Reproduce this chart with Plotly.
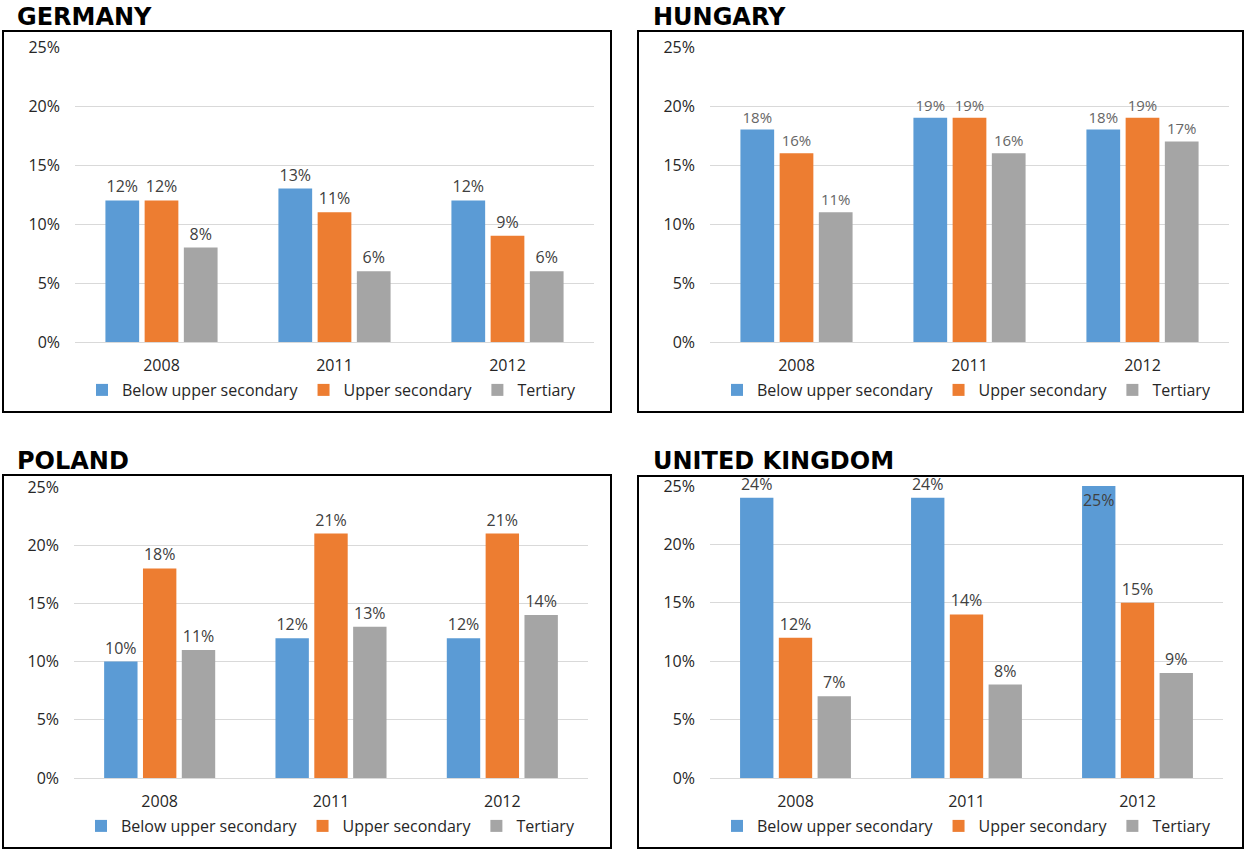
import plotly.graph_objects as go

W, H = 1244, 850

years = ["2008", "2011", "2012"]
series_names = ["Below upper secondary", "Upper secondary", "Tertiary"]
series_colors = ["#5B9BD5", "#ED7D31", "#A5A5A5"]

germany_below = [12, 13, 12]
germany_upper = [12, 11, 9]
germany_tertiary = [8, 6, 6]

hungary_below = [18, 19, 18]
hungary_upper = [16, 19, 19]
hungary_tertiary = [11, 16, 17]

poland_below = [10, 12, 12]
poland_upper = [18, 21, 21]
poland_tertiary = [11, 13, 14]

uk_below = [24, 24, 25]
uk_upper = [12, 14, 15]
uk_tertiary = [7, 8, 9]

y_max = 25
y_ticks = [0, 5, 10, 15, 20, 25]
y_tick_text = ["0%", "5%", "10%", "15%", "20%", "25%"]


def px_x(v):
    return v / W


def px_y(v):
    return 1 - v / H


# panel layout in pixels: title, frame box, plot area, legend
panels = [
    dict(title="GERMANY", data=[germany_below, germany_upper, germany_tertiary],
         box=(3, 31, 611, 412), plot=(75, 47, 594, 342), title_xy=(15, 17),
         legend_xy=(82, 390), label_color="#404040", label_size=16),
    dict(title="HUNGARY", data=[hungary_below, hungary_upper, hungary_tertiary],
         box=(638, 31, 1243, 412), plot=(710, 47, 1229, 342), title_xy=(651, 17),
         legend_xy=(717, 390), label_color="#666666", label_size=15),
    dict(title="POLAND", data=[poland_below, poland_upper, poland_tertiary],
         box=(3, 475, 611, 848), plot=(74, 487, 588, 778), title_xy=(15, 461),
         legend_xy=(81, 826), label_color="#404040", label_size=16),
    dict(title="UNITED KINGDOM", data=[uk_below, uk_upper, uk_tertiary],
         box=(638, 476, 1243, 848), plot=(710, 486, 1223, 778), title_xy=(651, 461),
         legend_xy=(717, 826), label_color="#404040", label_size=16),
]

FONT = "Open Sans"
fig = go.Figure()
layout = dict(
    width=W, height=H,
    margin=dict(l=0, r=0, t=0, b=0, autoexpand=False),
    paper_bgcolor="white", plot_bgcolor="white",
    barmode="group", bargap=0.32, bargroupgap=0.14,
    font=dict(family=FONT, size=16, color="#262626"),
    shapes=[], annotations=[],
)

for i, p in enumerate(panels):
    n = "" if i == 0 else str(i + 1)
    xa, ya = "x" + n, "y" + n
    leg = "legend" + n
    for name, color, vals in zip(series_names, series_colors, p["data"]):
        # labels sit above the bars; a bar reaching the top of the scale keeps its label inside
        positions = ["inside" if v >= y_max else "outside" for v in vals]
        label_font = dict(family=FONT, size=p["label_size"], color=p["label_color"])
        fig.add_trace(go.Bar(
            x=years, y=vals, name=name, marker=dict(color=color, line=dict(width=0)),
            xaxis=xa, yaxis=ya, legend=leg,
            text=[f"{v}%" for v in vals], textposition=positions, textangle=0,
            insidetextanchor="end", constraintext="none", cliponaxis=False,
            textfont=label_font, insidetextfont=label_font, outsidetextfont=label_font,
            hoverinfo="skip",
        ))
    x0, y0, x1, y1 = p["plot"]
    layout["xaxis" + n] = dict(
        domain=[px_x(x0), px_x(x1)], anchor=ya, showgrid=False, showline=False,
        zeroline=False, ticks="", ticklabelstandoff=12,
        tickfont=dict(family=FONT, size=16, color="#262626"),
    )
    layout["yaxis" + n] = dict(
        domain=[px_y(y1), px_y(y0)], anchor=xa, range=[0, y_max],
        tickvals=y_ticks, ticktext=y_tick_text, showgrid=True, gridcolor="#D9D9D9",
        gridwidth=1, zeroline=True, zerolinecolor="#D9D9D9", zerolinewidth=1,
        showline=False, ticks="", ticklabelstandoff=14,
        tickfont=dict(family=FONT, size=16, color="#262626"),
    )
    lx, ly = p["legend_xy"]
    layout[leg] = dict(
        x=px_x(lx), y=px_y(ly), xanchor="left", yanchor="middle",
        orientation="h", bgcolor="rgba(0,0,0,0)", borderwidth=0,
        font=dict(family=FONT, size=16, color="#262626"),
        itemclick=False, itemdoubleclick=False, tracegroupgap=0,
    )
    bx0, by0, bx1, by1 = p["box"]
    layout["shapes"].append(dict(
        type="rect", xref="paper", yref="paper",
        x0=px_x(bx0), x1=px_x(bx1), y0=px_y(by1), y1=px_y(by0),
        line=dict(color="black", width=2), fillcolor="rgba(0,0,0,0)", layer="above",
    ))
    tx, ty = p["title_xy"]
    layout["annotations"].append(dict(
        text="<b>" + p["title"] + "</b>", xref="paper", yref="paper",
        x=px_x(tx), y=px_y(ty), xanchor="left", yanchor="middle", showarrow=False,
        font=dict(family="DejaVu Sans", size=24, color="black"),
    ))

fig.update_layout(**layout)
fig.write_html("out.html")
